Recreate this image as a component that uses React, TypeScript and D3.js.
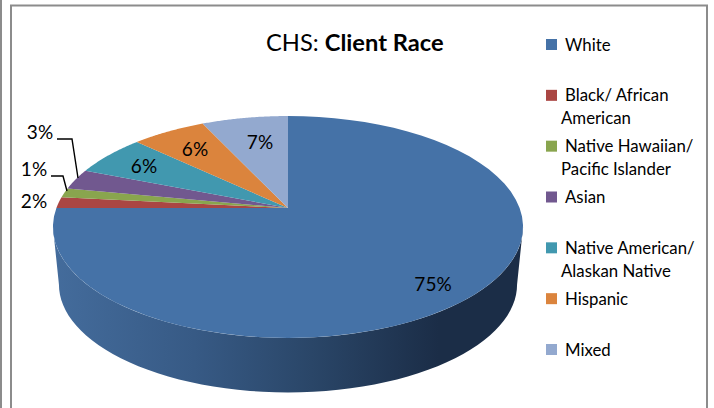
import React from 'react';
import * as d3 from 'd3';

const width = 714;
const height = 408;

// slices, clockwise from 12 o'clock
const categories = ['White', 'Black/ African American', 'Native Hawaiian/ Pacific Islander', 'Asian', 'Native American/ Alaskan Native', 'Hispanic', 'Mixed'];
const percents = [75, 1.6, 1.4, 3, 6, 6, 7];
const colors = ['#4572a7', '#aa4643', '#89a54e', '#71588f', '#4198af', '#db843d', '#93a9cf'];

const legendLines = [['White'], ['Black/ African', 'American'], ['Native Hawaiian/', 'Pacific Islander'], ['Asian'], ['Native American/', 'Alaskan Native'], ['Hispanic'], ['Mixed']];

// where the % labels sit, same order as the slices
const labelX = [433, 34, 34, 40, 144, 195, 260];
const labelY = [291, 208, 176, 139, 173, 156, 149];

// pie is tilted so the centre is not in the middle of the ellipse
const k = -0.171;
const top = { x: 288, y: 208, a: 231.6, b: 107.7 };
const bottom = { x: 288, y: 266, a: 225.7, b: 104.8 };

const project = (p: typeof top, angle: number) => {
  const u = Math.sin(angle);
  const v = -Math.cos(angle);
  const w = 1 + k * v;
  return [p.x + (p.a * u) / w, p.y + (p.b * v) / w] as [number, number];
};

const line = d3.line();

const rim = (p: typeof top, a0: number, a1: number) =>
  d3.range(0, 61).map((i) => project(p, a0 + ((a1 - a0) * i) / 60));

const slices = d3.pie<number>().sort(null).value((d) => d)(percents);

const tangent = Math.acos(k);
const wallPath = line([...rim(top, tangent, 2 * Math.PI - tangent), ...rim(bottom, 2 * Math.PI - tangent, tangent)]) + 'Z';

const legendY = d3.scalePoint<string>().domain(categories).range([45, 350]);

export default function App() {
  return (
    <svg width={width} height={height} style={{ position: 'absolute', left: 0, top: 0 }} fontFamily="Lato, sans-serif">
      <defs>
        <linearGradient id="wall" gradientUnits="userSpaceOnUse" x1={53} x2={523} y1={0} y2={0}>
          <stop offset="0" stopColor="#446c9c" />
          <stop offset="0.3" stopColor="#375a85" />
          <stop offset="0.55" stopColor="#2a4668" />
          <stop offset="0.82" stopColor="#1b2d47" />
          <stop offset="1" stopColor="#1b2d47" />
        </linearGradient>
      </defs>

      {/* frame */}
      <path d="M1 0V408M11 408V5.5H707V408" fill="none" stroke="#8c8c8c" strokeWidth={2} />

      <path d={wallPath} fill="url(#wall)" />
      {slices.map((s, i) => (
        <path
          key={categories[i]}
          d={line([[top.x, top.y], ...rim(top, s.startAngle, s.endAngle)]) + 'Z'}
          fill={colors[i]}
        />
      ))}

      {/* leader lines */}
      <path d="M57 139H72L78 178" fill="none" stroke="#000" strokeWidth={1.4} />
      <path d="M51 176H63L67 191" fill="none" stroke="#000" strokeWidth={1.4} />

      {percents.map((p, i) => (
        <text key={categories[i]} x={labelX[i]} y={labelY[i]} textAnchor="middle" fontSize={19} fill="#000">
          {Math.round(p)}%
        </text>
      ))}

      <text x={266} y={51} fontSize={23.7} fill="#000">
        CHS: <tspan fontWeight="bold">Client Race</tspan>
      </text>

      {categories.map((c, i) => {
        const y = legendY(c) as number;
        return (
          <g key={c}>
            <rect x={546} y={y - 6} width={11} height={11} fill={colors[i]} />
            {legendLines[i].map((t, j) => (
              <text key={t} x={j === 0 ? 565 : 561} y={y + 5.5 + j * 23} fontSize={16.8} fill="#000">
                {t}
              </text>
            ))}
          </g>
        );
      })}
    </svg>
  );
}
